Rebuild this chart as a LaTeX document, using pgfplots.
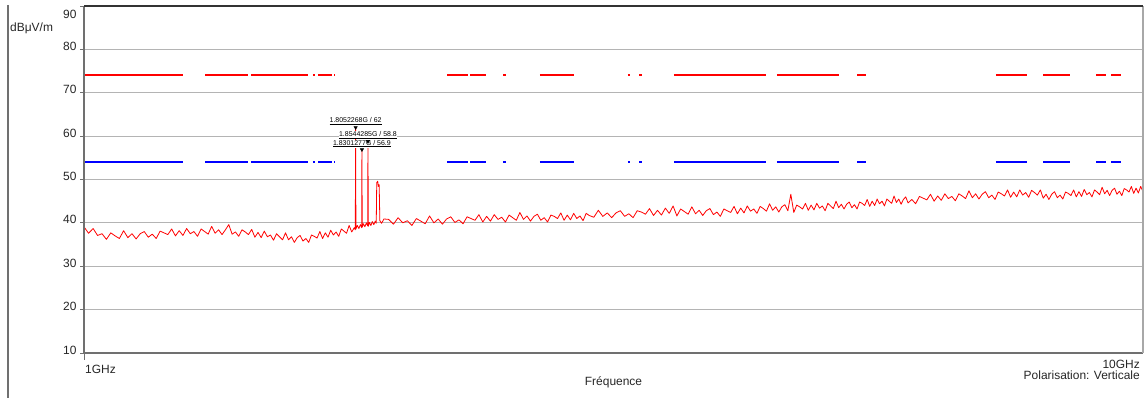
\documentclass[border=0pt]{standalone}
\usepackage{pgfplots}
\usepackage{pgfplotstable}
\pgfplotsset{compat=1.18}
\usepackage{fontspec}
\setmainfont{Liberation Sans}
\definecolor{vgrid}{HTML}{999999}
\definecolor{hgrid}{HTML}{B4B4B4}
\definecolor{frm}{HTML}{707070}
\definecolor{topfrm}{HTML}{333333}
\definecolor{rfrm}{HTML}{A8A8A8}

% limit lines (f in GHz)
\pgfplotstableread{
f red blue
1.0000 74 54
1.2402 74 54
1.2700 nan nan
1.3011 74 54
1.4286 74 54
1.4330 nan nan
1.4378 74 54
1.6274 74 54
1.6360 nan nan
1.6451 74 54
1.6523 74 54
1.6570 nan nan
1.6634 74 54
1.7148 74 54
1.7180 nan nan
1.7223 74 54
1.7259 74 54
1.8000 nan nan
2.2021 74 54
2.3047 74 54
2.3100 nan nan
2.3148 74 54
2.3967 74 54
2.4400 nan nan
2.4871 74 54
2.5032 74 54
2.6000 nan nan
2.6952 74 54
2.9020 74 54
3.1000 nan nan
3.2637 74 54
3.2780 74 54
3.3100 nan nan
3.3428 74 54
3.3644 74 54
3.5000 nan nan
3.6067 74 54
4.4055 74 54
4.4500 nan nan
4.5123 74 54
5.1636 74 54
5.3000 nan nan
5.3698 74 54
5.4760 74 54
6.0000 nan nan
7.2645 74 54
7.7716 74 54
7.9000 nan nan
8.0466 74 54
8.5325 74 54
8.8000 nan nan
9.0286 74 54
9.2278 74 54
9.2800 nan nan
9.3285 74 54
9.5326 74 54
}\limits

\pgfplotstableread{
f v
1.00 39.1
1.01 37.6
1.02 38.7
1.03 37.1
1.04 37.5
1.05 36.2
1.06 37.7
1.07 37.0
1.08 36.4
1.09 38.2
1.10 36.6
1.11 37.5
1.12 36.3
1.13 37.5
1.14 38.0
1.15 36.7
1.16 37.4
1.17 36.4
1.18 38.1
1.19 37.7
1.20 37.3
1.21 38.6
1.22 37.0
1.23 38.2
1.24 37.1
1.25 38.7
1.26 37.5
1.27 38.0
1.28 36.9
1.29 38.6
1.30 38.0
1.31 37.4
1.32 39.2
1.33 37.6
1.34 38.4
1.35 37.3
1.36 38.4
1.37 39.6
1.38 37.4
1.39 37.9
1.40 36.9
1.41 38.4
1.42 37.9
1.43 37.3
1.44 38.5
1.45 36.7
1.46 37.8
1.47 36.6
1.48 38.1
1.49 36.8
1.50 37.2
1.51 36.0
1.52 37.5
1.53 36.8
1.54 36.1
1.55 37.7
1.56 36.1
1.57 36.8
1.58 35.5
1.59 36.6
1.60 37.1
1.61 35.8
1.62 36.4
1.63 35.5
1.64 37.2
1.65 36.9
1.66 36.5
1.67 38.0
1.68 36.4
1.69 37.7
1.70 36.7
1.71 38.3
1.72 37.2
1.73 37.9
1.74 36.9
1.75 38.6
1.76 38.1
1.77 37.6
1.78 39.4
1.79 37.9
1.80 38.9
1.8040 38.4
1.8052268 62.0
1.8064 38.6
1.812 39.4
1.818 38.7
1.824 39.6
1.8290 38.9
1.8301277 56.9
1.8313 39.0
1.836 39.8
1.842 39.1
1.848 40.0
1.8532 39.3
1.8544285 58.8
1.8556 39.2
1.860 40.1
1.866 39.4
1.872 40.3
1.878 39.6
1.884 40.4
1.888 39.9
1.890 49.3
1.894 49.6
1.897 48.4
1.900 48.8
1.903 40.5
1.91 39.9
1.92 40.9
1.94 40.8
1.96 39.7
1.98 41.2
2.00 40.0
2.02 40.5
2.04 39.4
2.06 41.0
2.08 40.4
2.10 39.8
2.12 41.6
2.14 40.0
2.16 40.9
2.18 39.7
2.20 40.9
2.22 41.4
2.24 40.1
2.26 40.7
2.28 39.8
2.30 41.4
2.32 41.0
2.34 40.6
2.36 41.9
2.38 40.2
2.40 41.5
2.42 40.4
2.44 41.9
2.46 40.8
2.48 41.3
2.50 40.2
2.52 41.8
2.54 41.2
2.56 40.6
2.58 42.4
2.60 40.8
2.62 41.6
2.64 40.4
2.66 41.5
2.68 42.0
2.70 40.6
2.72 41.2
2.74 40.2
2.76 41.8
2.78 41.5
2.80 41.0
2.82 42.3
2.84 40.6
2.86 41.8
2.88 40.7
2.90 42.2
2.92 41.0
2.94 41.6
2.96 40.5
2.98 42.2
3.00 41.7
3.03 41.3
3.06 42.9
3.09 41.5
3.12 42.3
3.15 41.2
3.18 42.3
3.21 42.8
3.24 41.5
3.27 42.1
3.30 41.2
3.33 42.8
3.36 42.5
3.39 42.0
3.42 43.3
3.45 41.7
3.48 42.9
3.51 41.8
3.54 43.4
3.57 42.2
3.60 43.9
3.63 41.6
3.66 43.2
3.69 42.6
3.72 42.0
3.75 43.7
3.78 42.1
3.81 42.9
3.84 41.7
3.87 42.8
3.90 43.3
3.93 41.9
3.96 42.5
3.99 41.5
4.02 43.2
4.05 42.8
4.08 42.4
4.11 43.8
4.14 42.1
4.17 43.4
4.20 42.3
4.23 43.9
4.26 42.7
4.29 43.2
4.32 42.2
4.35 43.8
4.38 43.3
4.41 42.7
4.44 44.4
4.47 42.9
4.50 43.7
4.53 42.5
4.56 43.7
4.59 44.2
4.62 42.8
4.65 46.6
4.68 42.4
4.71 44.1
4.74 43.7
4.77 43.2
4.80 44.5
4.83 42.9
4.86 44.1
4.89 43.0
4.92 44.5
4.95 43.4
4.98 43.9
5.01 42.8
5.04 44.5
5.07 43.9
5.10 43.3
5.13 45.0
5.16 43.5
5.19 44.3
5.22 43.2
5.25 44.3
5.28 44.8
5.31 43.5
5.34 44.2
5.37 43.2
5.40 44.8
5.43 44.5
5.46 44.0
5.49 45.4
5.52 43.8
5.55 45.0
5.58 44.0
5.61 45.5
5.64 44.4
5.67 45.0
5.70 43.9
5.73 45.5
5.76 45.0
5.79 44.5
5.82 46.2
5.85 44.7
5.88 45.5
5.91 44.3
5.94 45.4
5.97 46.0
6.00 44.6
6.05 45.4
6.10 44.4
6.15 46.1
6.20 45.7
6.25 45.3
6.30 46.6
6.35 45.0
6.40 46.2
6.45 45.2
6.50 46.7
6.55 45.6
6.60 46.1
6.65 45.1
6.70 46.7
6.75 46.2
6.80 45.6
6.85 47.4
6.90 45.8
6.95 46.7
7.00 45.5
7.05 46.6
7.10 47.2
7.15 45.8
7.20 46.4
7.25 45.4
7.30 47.1
7.35 46.7
7.40 46.2
7.45 47.6
7.50 45.9
7.55 47.1
7.60 46.0
7.65 47.6
7.70 46.4
7.75 47.0
7.80 45.9
7.85 47.5
7.90 47.0
7.95 46.4
8.00 47.6
8.05 45.7
8.10 46.6
8.15 45.4
8.20 46.6
8.25 47.2
8.30 45.8
8.35 46.4
8.40 45.5
8.45 47.1
8.50 46.8
8.55 46.3
8.60 47.6
8.65 46.0
8.70 47.2
8.75 46.1
8.80 47.7
8.85 46.5
8.90 47.0
8.95 46.0
9.00 47.6
9.05 47.1
9.10 46.5
9.15 48.2
9.20 46.7
9.25 47.5
9.30 46.3
9.35 47.5
9.40 48.0
9.45 46.6
9.50 47.3
9.55 46.3
9.60 47.9
9.65 47.6
9.70 47.1
9.75 48.4
9.80 46.8
9.85 48.0
9.90 46.9
9.95 48.4
10.00 47.2
}\trace

\begin{document}
\begin{tikzpicture}
\begin{axis}[
  name=ax,
  scale only axis, width=1059bp, height=347bp,
  at={(0,0)}, anchor=south west,
  xmode=log, xmin=1, xmax=10, ymin=10, ymax=90,
  xtick=\empty,
  minor xtick={2,3,4,5,6,7,8,9},
  xminorgrids,
  minor x grid style={color=vgrid, line width=1.5bp},
  ytick={10,20,30,40,50,60,70,80,90},
  yticklabels={10,20,30,40,50,60,70,80,\raisebox{-11bp}{90}},
  ymajorgrids,
  major grid style={color=hgrid, line width=1.2bp},
  tick align=outside, tick pos=left,
  major tick length=4bp, minor tick length=0bp,
  tick style={color=frm, line width=1bp},
  axis line style={draw=none},
  yticklabel style={font=\fontsize{12}{14}\selectfont, anchor=base east, yshift=-1bp, text=black!85},
  /pgf/number format/assume math mode=true,
  clip=false,
  unbounded coords=jump,
]
\addplot[color=red, line width=2bp] table[x=f, y=red] {\limits};
\addplot[color=blue, line width=2bp] table[x=f, y=blue] {\limits};
\addplot[color=red, line width=0.8bp, line join=round] table[x=f, y=v] {\trace};

\draw[color=frm, line width=2bp] (rel axis cs:0,0) -- (rel axis cs:0,1);
\draw[color=frm, line width=2bp] (rel axis cs:0,0) -- (rel axis cs:1,0);
\draw[color=rfrm, line width=1.5bp] (rel axis cs:1,0) -- (rel axis cs:1,1);
\draw[color=topfrm, line width=2bp] (rel axis cs:0,1) -- (rel axis cs:1,1);

\tikzset{peaklab/.style={font=\fontsize{7}{8}\selectfont, fill=white, inner sep=0.4bp, anchor=south, yshift=1.8bp}}
\node[peaklab] at (axis cs:1.8052268,62) {\underline{1.8052268G / 62}};
\node[peaklab] at (axis cs:1.8544285,58.8) {\underline{1.8544285G / 58.8}};
\node[peaklab] at (axis cs:1.8301277,56.9) {\underline{1.8301277G / 56.9}};
\addplot[only marks, mark=triangle*, mark size=2bp, mark options={rotate=180, draw=black, fill=black}] coordinates {(1.8052268,62) (1.8301277,56.9) (1.8544285,58.8)};
\end{axis}
\draw[color=frm, line width=1bp] (0bp,0bp) -- (0bp,-7bp);
\tikzset{lab/.style={font=\fontsize{12}{14}\selectfont, inner sep=0pt, text=black!85}}
\node[lab, anchor=base west] at ([xshift=1bp, yshift=-20.6bp]ax.south west) {1GHz};
\node[lab, anchor=base east] at ([xshift=-3bp, yshift=-15bp]ax.south east) {10GHz};
\node[lab, anchor=base] at ([yshift=-32.5bp]ax.south) {Fréquence};
\node[lab, anchor=base east] at ([xshift=-3bp, yshift=-26.3bp]ax.south east) {Polarisation: Verticale};
\node[lab, anchor=base west] at ([xshift=-74bp, yshift=-25.7bp]ax.north west) {dBμV/m};
\draw[color=frm, line width=1.5bp] (-76bp,348bp) -- (-76bp,-46bp);
\pgfresetboundingbox
\useasboundingbox (-84bp,-45bp) rectangle (1060bp,353bp);
\end{tikzpicture}
\end{document}
